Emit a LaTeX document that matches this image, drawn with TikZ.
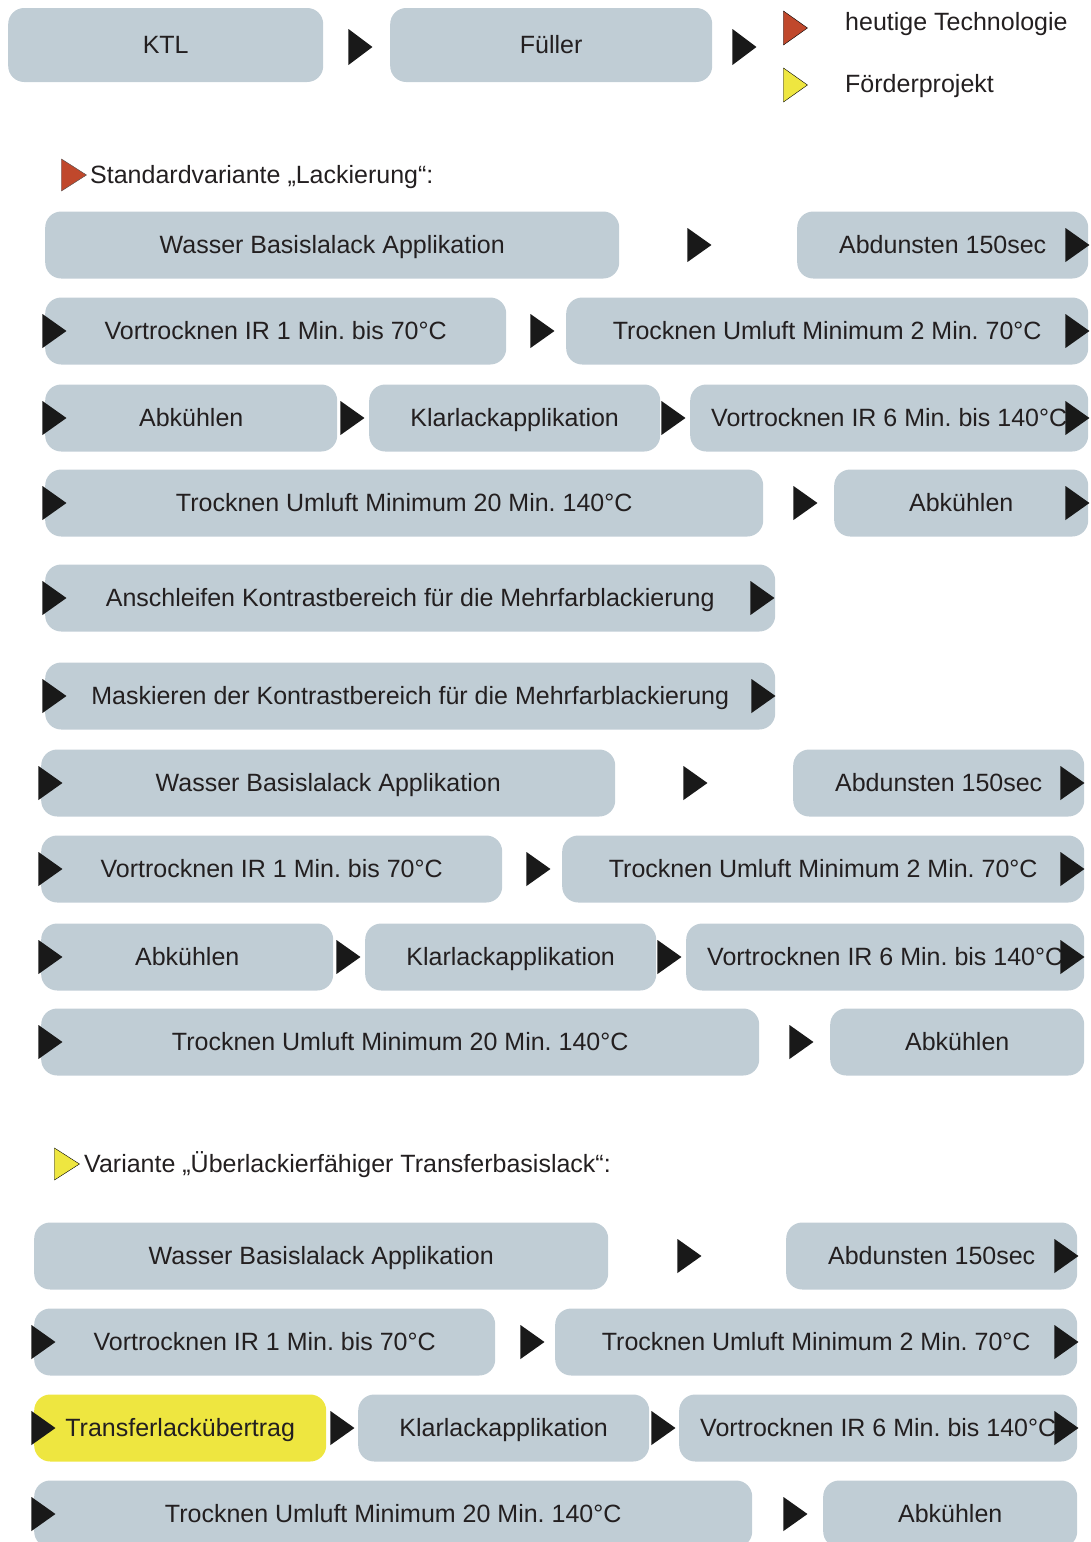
\documentclass[tikz,border=0pt]{standalone}
\usepackage{fontspec}
\setmainfont{Liberation Sans}
\frenchspacing
\usetikzlibrary{shapes.geometric}
\definecolor{boxblue}{RGB}{192,205,213}
\definecolor{markyellow}{RGB}{238,230,64}
\definecolor{markred}{RGB}{192,72,44}
\definecolor{textgray}{RGB}{35,31,32}
\tikzset{procbox/.style={rectangle, rounded corners=16pt, fill=boxblue, minimum height=67pt, inner sep=0pt, anchor=west, text=textgray, text height=20pt, text depth=3pt, font=\fontsize{25}{30}\selectfont},
  flowtri/.style={isosceles triangle, isosceles triangle stretches, fill=black!90, inner sep=0pt, minimum width=34pt, minimum height=24pt, anchor=apex},
  headtext/.style={anchor=west, inner sep=0pt, text=textgray, text height=20pt, text depth=3pt, font=\fontsize{25}{30}\selectfont},}

\begin{document}
\begin{tikzpicture}[x=1pt,y=-1pt]
  \useasboundingbox (0,0) rectangle (1090,1542);

  % top row and legend
  \node[procbox, minimum height=74pt, minimum width=315pt] (ktl) at (8,45) {KTL};
  \node[procbox, minimum height=74pt, minimum width=322pt] (fuel) at (390,45) {Füller};
  \node[flowtri, minimum width=36pt] (t1) at (373,47) {};
  \node[flowtri, minimum width=36pt] (t2) at (757,47) {};
  \node[flowtri, fill=markred, draw=black, thin] (legred) at (808,28) {};
  \node[flowtri, fill=markyellow, draw=black, thin] (legyel) at (808,85) {};
  \node[headtext] (legredtxt) at (845,22) {heutige Technologie};
  \node[headtext] (legyeltxt) at (845,84) {Förderprojekt};

  % Standardvariante
  \node[flowtri, fill=markred, draw=black!70, thin, minimum width=32pt, minimum height=25pt] (hdred) at (87,175) {};
  \node[headtext] (hdredtxt) at (90,175) {Standardvariante „Lackierung“:};

  \node[procbox, minimum width=574pt] (wba1) at (45,245) {Wasser Basislalack Applikation};
  \node[procbox, minimum width=291pt] (abd1) at (797,245) {Abdunsten 150sec};
  \node[procbox, minimum width=461pt] (vir1) at (45,331) {Vortrocknen IR 1 Min. bis 70°C};
  \node[procbox, minimum width=522pt] (tum1) at (566,331) {Trocknen Umluft Minimum 2 Min. 70°C};
  \node[procbox, minimum width=292pt] (abk1) at (45,418) {Abkühlen};
  \node[procbox, minimum width=291pt] (kla1) at (369,418) {Klarlackapplikation};
  \node[procbox, minimum width=398pt] (vsx1) at (690,418) {Vortrocknen IR 6 Min. bis 140°C};
  \node[procbox, minimum width=718pt] (tuz1) at (45,503) {Trocknen Umluft Minimum 20 Min. 140°C};
  \node[procbox, minimum width=254pt] (abl1) at (834,503) {Abkühlen};
  \node[procbox, minimum width=730pt] (ans) at (45,598) {Anschleifen Kontrastbereich für die Mehrfarblackierung};
  \node[procbox, minimum width=730pt] (mas) at (45,696) {Maskieren der Kontrastbereich für die Mehrfarblackierung};
  \node[procbox, minimum width=574pt] (wba2) at (41,783) {Wasser Basislalack Applikation};
  \node[procbox, minimum width=291pt] (abd2) at (793,783) {Abdunsten 150sec};
  \node[procbox, minimum width=461pt] (vir2) at (41,869) {Vortrocknen IR 1 Min. bis 70°C};
  \node[procbox, minimum width=522pt] (tum2) at (562,869) {Trocknen Umluft Minimum 2 Min. 70°C};
  \node[procbox, minimum width=292pt] (abk2) at (41,957) {Abkühlen};
  \node[procbox, minimum width=291pt] (kla2) at (365,957) {Klarlackapplikation};
  \node[procbox, minimum width=398pt] (vsx2) at (686,957) {Vortrocknen IR 6 Min. bis 140°C};
  \node[procbox, minimum width=718pt] (tuz2) at (41,1042) {Trocknen Umluft Minimum 20 Min. 140°C};
  \node[procbox, minimum width=254pt] (abl2) at (830,1042) {Abkühlen};

  % Variante Transferbasislack
  \node[flowtri, fill=markyellow, draw=black, thin, minimum width=32pt, minimum height=25pt] (hdyel) at (80,1164) {};
  \node[headtext] (hdyeltxt) at (84,1164) {Variante „Überlackierfähiger Transferbasislack“:};

  \node[procbox, minimum width=574pt] (wba3) at (34,1256) {Wasser Basislalack Applikation};
  \node[procbox, minimum width=291pt] (abd3) at (786,1256) {Abdunsten 150sec};
  \node[procbox, minimum width=461pt] (vir3) at (34,1342) {Vortrocknen IR 1 Min. bis 70°C};
  \node[procbox, minimum width=522pt] (tum3) at (555,1342) {Trocknen Umluft Minimum 2 Min. 70°C};
  \node[procbox, fill=markyellow, minimum width=292pt] (tlu3) at (34,1428) {Transferlackübertrag};
  \node[procbox, minimum width=291pt] (kla3) at (358,1428) {Klarlackapplikation};
  \node[procbox, minimum width=398pt] (vsx3) at (679,1428) {Vortrocknen IR 6 Min. bis 140°C};
  \node[procbox, minimum width=718pt] (tuz3) at (34,1514) {Trocknen Umluft Minimum 20 Min. 140°C};
  \node[procbox, minimum width=254pt] (abl3) at (823,1514) {Abkühlen};

  % flow markers
  \foreach \x/\y/\n in {712/245/a1, 1090/245/a2, 67/331/a3, 555/331/a4, 1090/331/a5,
      67/418/a6, 365/418/a7, 686/418/a8, 1090/418/a9, 67/503/a10, 818/503/a11, 1090/503/a12,
      67/598/a13, 775/598/a14, 67/696/a15, 776/696/a16,
      63/783/b1, 708/783/b2, 1085/783/b3, 63/869/b4, 551/869/b5, 1085/869/b6,
      63/957/b7, 361/957/b8, 682/957/b9, 1085/957/b10, 63/1042/b11, 814/1042/b12,
      702/1256/c1, 1079/1256/c2, 56/1342/c3, 545/1342/c4, 1079/1342/c5,
      56/1428/c6, 355/1428/c7, 676/1428/c8, 1079/1428/c9, 56/1514/c10, 808/1514/c11}
    \node[flowtri] (\n) at (\x,\y) {};
\end{tikzpicture}
\end{document}
